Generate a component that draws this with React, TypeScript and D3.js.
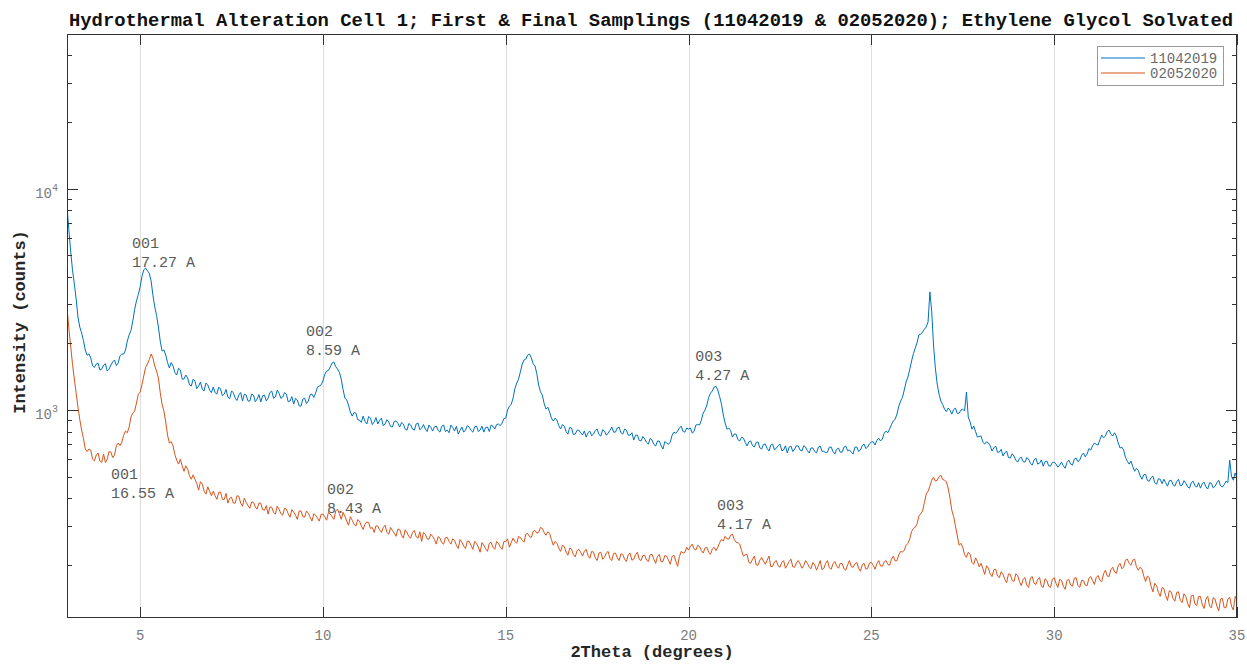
import React from 'react';
import * as d3 from 'd3';

// 2Theta scan grid: each row starts at a whole degree (3..35), points 0.05 degree apart
const SCAN_START = 3;
const POINTS_PER_DEGREE = 20;

// Intensity (counts) for sampling 11042019, one row per degree
const sample11042019: number[][] = [
  [8300, 6550, 5240, 4300, 3715, 3180, 2634, 2370, 2229, 2060, 1868, 1770, 1792, 1720, 1582, 1560, 1615, 1630, 1517, 1530],
  [1598, 1620, 1501, 1530, 1598, 1650, 1683, 1590, 1632, 1760, 1792, 1790, 1868, 2050, 2186, 2290, 2526, 2850, 3114, 3330],
  [3601, 4010, 4302, 4380, 4257, 4150, 3834, 3300, 2924, 2680, 2373, 2050, 1849, 1870, 1773, 1640, 1550, 1640, 1582, 1480],
  [1440, 1545, 1517, 1380, 1381, 1440, 1396, 1300, 1284, 1380, 1353, 1250, 1284, 1340, 1245, 1220, 1325, 1300, 1232, 1200],
  [1271, 1200, 1181, 1270, 1245, 1160, 1181, 1240, 1145, 1125, 1219, 1200, 1133, 1105, 1169, 1200, 1098, 1180, 1169, 1100],
  [1098, 1180, 1169, 1090, 1122, 1175, 1087, 1160, 1169, 1100, 1133, 1200, 1219, 1130, 1145, 1230, 1193, 1130, 1145, 1200],
  [1181, 1090, 1098, 1150, 1064, 1130, 1110, 1045, 1042, 1120, 1133, 1070, 1098, 1175, 1181, 1140, 1193, 1270, 1284, 1300],
  [1353, 1450, 1501, 1510, 1566, 1630, 1649, 1570, 1533, 1480, 1381, 1240, 1133, 1110, 1053, 980, 939, 975, 969, 905],
  [901, 880, 939, 890, 865, 935, 920, 860, 883, 925, 865, 900, 920, 850, 865, 905, 883, 845, 838, 890],
  [892, 870, 838, 880, 865, 820, 812, 870, 856, 820, 812, 865, 874, 815, 829, 860, 821, 800, 856, 835],
  [804, 840, 847, 810, 795, 845, 856, 800, 812, 790, 856, 835, 804, 845, 779, 810, 838, 795, 812, 850],
  [838, 810, 795, 840, 847, 800, 812, 845, 795, 835, 838, 800, 856, 845, 821, 860, 865, 850, 874, 915],
  [920, 1000, 1042, 1060, 1133, 1250, 1325, 1380, 1487, 1610, 1683, 1700, 1773, 1790, 1719, 1620, 1582, 1460, 1297, 1210],
  [1169, 1070, 1010, 1030, 979, 920, 892, 920, 901, 850, 821, 860, 847, 800, 779, 835, 829, 775, 779, 810],
  [812, 790, 771, 805, 755, 790, 804, 765, 779, 810, 821, 775, 763, 815, 804, 770, 787, 810, 838, 795],
  [795, 830, 838, 790, 779, 820, 812, 770, 771, 790, 732, 770, 771, 730, 725, 760, 740, 715, 702, 745],
  [732, 700, 688, 725, 725, 690, 667, 720, 710, 700, 717, 770, 795, 785, 804, 830, 847, 800, 795, 830],
  [821, 830, 787, 800, 856, 860, 856, 900, 969, 1000, 1053, 1140, 1193, 1220, 1271, 1280, 1232, 1150, 1064, 950],
  [874, 820, 829, 810, 755, 780, 779, 735, 725, 755, 747, 715, 688, 720, 725, 690, 681, 715, 717, 675],
  [667, 700, 702, 670, 653, 695, 702, 660, 674, 690, 702, 655, 660, 690, 640, 680, 688, 650, 667, 690],
  [688, 660, 653, 690, 681, 655, 640, 675, 674, 650, 640, 680, 688, 650, 653, 640, 646, 680, 681, 650],
  [633, 665, 674, 645, 646, 680, 688, 655, 660, 645, 633, 680, 681, 650, 660, 690, 702, 670, 681, 705],
  [717, 720, 695, 730, 747, 725, 740, 785, 804, 790, 821, 860, 892, 910, 959, 1040, 1098, 1140, 1232, 1340],
  [1411, 1530, 1666, 1800, 1907, 2020, 2186, 2200, 2253, 2320, 2373, 2500, 3420, 2800, 1967, 1550, 1311, 1180, 1098, 1060],
  [1010, 985, 1021, 1000, 959, 1005, 1021, 965, 969, 1000, 1010, 990, 1206, 930, 883, 820, 847, 800, 755, 760],
  [763, 715, 702, 720, 710, 690, 653, 675, 688, 645, 646, 665, 620, 640, 653, 610, 607, 635, 620, 595],
  [582, 605, 613, 585, 582, 610, 600, 575, 564, 595, 607, 570, 576, 595, 558, 585, 588, 560, 558, 580],
  [582, 570, 552, 565, 582, 560, 546, 580, 594, 570, 564, 600, 607, 585, 594, 625, 640, 615, 633, 670],
  [660, 690, 710, 700, 695, 735, 771, 750, 763, 800, 812, 780, 763, 790, 763, 710, 674, 680, 660, 610],
  [588, 570, 588, 555, 529, 545, 535, 505, 487, 510, 513, 480, 477, 495, 503, 470, 463, 490, 487, 465],
  [487, 470, 453, 480, 482, 460, 453, 475, 487, 455, 458, 480, 467, 450, 444, 470, 477, 455, 449, 470],
  [444, 465, 472, 450, 440, 470, 467, 445, 453, 470, 482, 455, 449, 460, 477, 470, 594, 500, 482, 520],
  [492],
];

// Intensity (counts) for sampling 02052020, one row per degree
const sample02052020: number[][] = [
  [2894, 2350, 1947, 1620, 1381, 1190, 1032, 905, 812, 745, 667, 650, 667, 660, 600, 590, 626, 640, 588, 580],
  [633, 580, 600, 650, 646, 610, 626, 690, 710, 690, 717, 770, 804, 790, 838, 930, 969, 990, 1076, 1180],
  [1206, 1300, 1426, 1560, 1615, 1690, 1792, 1720, 1582, 1500, 1396, 1200, 1064, 990, 883, 770, 710, 720, 688, 630],
  [594, 570, 600, 560, 529, 560, 541, 505, 487, 510, 487, 465, 435, 475, 463, 430, 417, 450, 430, 410],
  [430, 410, 395, 425, 426, 395, 395, 420, 380, 400, 404, 380, 380, 410, 408, 380, 368, 400, 383, 370],
  [360, 385, 383, 365, 357, 380, 380, 355, 353, 370, 339, 365, 364, 345, 339, 368, 357, 340, 335, 360],
  [357, 340, 328, 355, 346, 335, 321, 350, 350, 330, 328, 350, 342, 328, 315, 340, 335, 325, 315, 338],
  [339, 330, 318, 345, 339, 330, 321, 350, 357, 340, 321, 345, 332, 315, 302, 330, 318, 305, 299, 320],
  [315, 300, 289, 305, 312, 310, 292, 295, 280, 300, 299, 288, 280, 295, 302, 280, 275, 295, 286, 278],
  [269, 290, 289, 272, 264, 288, 280, 268, 264, 280, 286, 268, 264, 282, 255, 280, 275, 262, 261, 275],
  [269, 260, 248, 268, 264, 252, 248, 265, 266, 255, 248, 262, 258, 245, 237, 260, 253, 243, 237, 256],
  [255, 245, 235, 255, 250, 240, 228, 252, 245, 236, 230, 250, 253, 240, 235, 255, 250, 240, 235, 255],
  [255, 262, 240, 252, 264, 255, 250, 268, 266, 258, 253, 275, 277, 268, 266, 283, 286, 278, 280, 295],
  [292, 280, 272, 282, 277, 260, 245, 255, 250, 238, 230, 245, 242, 228, 221, 238, 235, 222, 217, 232],
  [235, 228, 219, 230, 235, 220, 214, 230, 228, 215, 209, 226, 228, 212, 216, 226, 230, 214, 209, 225],
  [226, 215, 209, 224, 223, 212, 207, 222, 226, 210, 212, 222, 228, 212, 209, 220, 221, 210, 207, 222],
  [223, 212, 203, 218, 223, 206, 207, 220, 219, 210, 201, 218, 221, 208, 197, 218, 230, 226, 228, 240],
  [233, 242, 248, 236, 233, 245, 242, 232, 226, 238, 240, 228, 223, 236, 240, 232, 240, 252, 261, 256],
  [269, 262, 261, 272, 275, 260, 253, 252, 248, 232, 219, 222, 223, 205, 203, 212, 219, 200, 199, 210],
  [216, 208, 201, 210, 219, 196, 197, 206, 209, 198, 195, 205, 209, 193, 199, 207, 212, 196, 195, 204],
  [209, 202, 193, 198, 209, 203, 195, 192, 205, 200, 189, 198, 209, 190, 193, 203, 209, 194, 191, 202],
  [207, 198, 193, 203, 203, 192, 189, 200, 209, 196, 195, 202, 205, 193, 187, 200, 203, 191, 193, 204],
  [205, 199, 191, 202, 209, 198, 197, 206, 209, 201, 199, 212, 219, 208, 209, 222, 230, 228, 233, 245],
  [250, 262, 283, 292, 296, 306, 332, 340, 350, 382, 417, 430, 453, 482, 498, 478, 482, 500, 508, 486],
  [482, 475, 444, 400, 353, 330, 299, 270, 245, 250, 240, 222, 216, 228, 223, 205, 201, 215, 207, 196],
  [203, 192, 181, 198, 193, 182, 177, 190, 191, 178, 175, 186, 181, 172, 166, 182, 181, 170, 168, 182],
  [179, 168, 161, 172, 175, 162, 158, 174, 177, 165, 163, 172, 175, 160, 158, 173, 170, 160, 158, 172],
  [175, 165, 158, 172, 170, 160, 155, 170, 172, 162, 160, 174, 175, 161, 158, 170, 170, 162, 161, 174],
  [177, 170, 163, 175, 179, 170, 168, 182, 189, 178, 177, 190, 195, 186, 183, 198, 203, 192, 195, 210],
  [212, 203, 199, 210, 212, 196, 189, 195, 191, 178, 168, 178, 175, 160, 151, 165, 161, 150, 144, 158],
  [156, 145, 138, 153, 151, 141, 137, 150, 151, 138, 135, 148, 144, 134, 128, 145, 146, 133, 131, 144],
  [144, 132, 127, 140, 144, 130, 128, 142, 140, 130, 124, 140, 141, 128, 128, 140, 143, 130, 125, 144],
  [138],
];

const seriesNames = ['11042019', '02052020'];
const seriesColors = ['#0072BD', '#D95319'];

const xTicks = [5, 10, 15, 20, 25, 30, 35];
const xDomain = [3, 35];
const yDomain = [115, 50000];
const yMajorTicks = [1000, 10000];
const yMajorExponents = ['3', '4'];
const yMinorTicks = [200, 300, 400, 500, 600, 700, 800, 900, 2000, 3000, 4000, 5000, 6000, 7000, 8000, 9000, 20000, 30000, 40000];

// peak labels: position in (2Theta, counts) = middle of the two text lines
const peakLabelX = [4.78, 9.54, 20.18, 4.2, 10.11, 20.78];
const peakLabelY = [5161, 2063, 1598, 467, 398, 338];
const peakLabelHkl = ['001', '002', '003', '001', '002', '003'];
const peakLabelD = ['17.27 A', '8.59 A', '4.27 A', '16.55 A', '8.43 A', '4.17 A'];

const titleText = 'Hydrothermal Alteration Cell 1; First & Final Samplings (11042019 & 02052020); Ethylene Glycol Solvated';
const xLabelText = '2Theta (degrees)';
const yLabelText = 'Intensity (counts)';

const MONO = "'Liberation Mono', 'Courier New', 'DejaVu Sans Mono', monospace";

function toPoints(rows: number[][]): [number, number][] {
  const pts: [number, number][] = [];
  rows.forEach((row, r) => {
    row.forEach((v, i) => {
      pts.push([(SCAN_START * POINTS_PER_DEGREE + r * POINTS_PER_DEGREE + i) / POINTS_PER_DEGREE, v]);
    });
  });
  return pts;
}

export default function App() {
  const W = 1247;
  const H = 664;
  const left = 67;
  const right = 1237;
  const top = 34;
  const bottom = 618;

  const xs = d3.scaleLinear().domain(xDomain).range([left, right]);
  const ys = d3.scaleLog().domain(yDomain).range([bottom, top]);

  const line = d3
    .line<[number, number]>()
    .x((d) => xs(d[0]))
    .y((d) => ys(d[1]));

  const series = [toPoints(sample11042019), toPoints(sample02052020)];

  const axisColor = '#333';
  const majorLen = 11;
  const minorLen = 5;

  const legX = 1097;
  const legY = 46;
  const legW = 126;
  const legH = 39;

  return (
    <svg
      width={W}
      height={H}
      style={{ position: 'absolute', left: 0, top: 0, background: '#fff' }}
      fontFamily={MONO}
    >
      <rect x={0} y={0} width={W} height={H} fill="#fff" />
      <defs>
        <clipPath id="plotclip">
          <rect x={left} y={top} width={right - left} height={bottom - top} />
        </clipPath>
      </defs>

      {/* grid */}
      {xTicks.map((t) => (
        <line
          key={'g' + t}
          x1={Math.round(xs(t)) + 0.5}
          x2={Math.round(xs(t)) + 0.5}
          y1={top}
          y2={bottom}
          stroke="#dedede"
          strokeWidth={1}
        />
      ))}

      {/* data */}
      <g clipPath="url(#plotclip)">
        {series.map((pts, i) => (
          <path
            key={'s' + i}
            d={line(pts) || ''}
            fill="none"
            stroke={seriesColors[i]}
            strokeWidth={1}
            strokeLinejoin="round"
          />
        ))}
      </g>

      {/* axes box */}
      <rect
        x={left + 0.5}
        y={top + 0.5}
        width={right - left - 1}
        height={bottom - top - 1}
        fill="none"
        stroke={axisColor}
        strokeWidth={1}
      />

      {/* x ticks */}
      {xTicks.map((t) => {
        const x = Math.round(xs(t)) + 0.5;
        return (
          <g key={'xt' + t}>
            <line x1={x} x2={x} y1={bottom} y2={bottom - majorLen} stroke={axisColor} />
            <line x1={x} x2={x} y1={top} y2={top + majorLen} stroke={axisColor} />
            <text x={xs(t)} y={640} textAnchor="middle" fontSize={14} fill="#7a7a7a">
              {t}
            </text>
          </g>
        );
      })}

      {/* y ticks */}
      {yMajorTicks.map((t, i) => {
        const y = Math.round(ys(t)) + 0.5;
        return (
          <g key={'ym' + t}>
            <line x1={left} x2={left + majorLen} y1={y} y2={y} stroke={axisColor} />
            <line x1={right} x2={right - majorLen} y1={y} y2={y} stroke={axisColor} />
            <text x={58} y={ys(t) + 9} textAnchor="end" fontSize={14} fill="#7a7a7a">
              10
              <tspan dy={-7} fontSize={10}>
                {yMajorExponents[i]}
              </tspan>
            </text>
          </g>
        );
      })}
      {yMinorTicks.map((t) => {
        const y = Math.round(ys(t)) + 0.5;
        return (
          <g key={'yn' + t}>
            <line x1={left} x2={left + minorLen} y1={y} y2={y} stroke={axisColor} />
            <line x1={right} x2={right - minorLen} y1={y} y2={y} stroke={axisColor} />
          </g>
        );
      })}

      {/* peak labels */}
      {peakLabelX.map((px, i) => {
        const x = xs(px);
        const y = ys(peakLabelY[i]);
        return (
          <text key={'pl' + i} fontSize={15} fill="#5a5a5a">
            <tspan x={x} y={y - 9.5 + 5}>
              {peakLabelHkl[i]}
            </tspan>
            <tspan x={x} y={y + 9.5 + 5}>
              {peakLabelD[i]}
            </tspan>
          </text>
        );
      })}

      {/* legend */}
      <rect x={legX + 0.5} y={legY + 0.5} width={legW} height={legH} fill="#fff" stroke="#9a9a9a" strokeWidth={1} />
      {seriesNames.map((n, i) => {
        const y = legY + 12 + i * 15;
        return (
          <g key={'lg' + i}>
            <line x1={legX + 4} x2={legX + 48} y1={y} y2={y} stroke={seriesColors[i]} strokeWidth={1} />
            <text x={legX + 53} y={y + 5} fontSize={14} fill="#6a6a6a">
              {n}
            </text>
          </g>
        );
      })}

      {/* title and labels */}
      <text
        x={(left + right) / 2 - 1}
        y={26}
        textAnchor="middle"
        fontSize={19}
        fontWeight="bold"
        fill="#111"
        textLength={1164}
        lengthAdjust="spacingAndGlyphs"
      >
        {titleText}
      </text>
      <text x={652} y={657} textAnchor="middle" fontSize={17} fontWeight="bold" fill="#262626">
        {xLabelText}
      </text>
      <text
        transform={`translate(25, ${(top + bottom) / 2 - 4}) rotate(-90)`}
        textAnchor="middle"
        fontSize={17}
        fontWeight="bold"
        fill="#262626"
      >
        {yLabelText}
      </text>
    </svg>
  );
}
